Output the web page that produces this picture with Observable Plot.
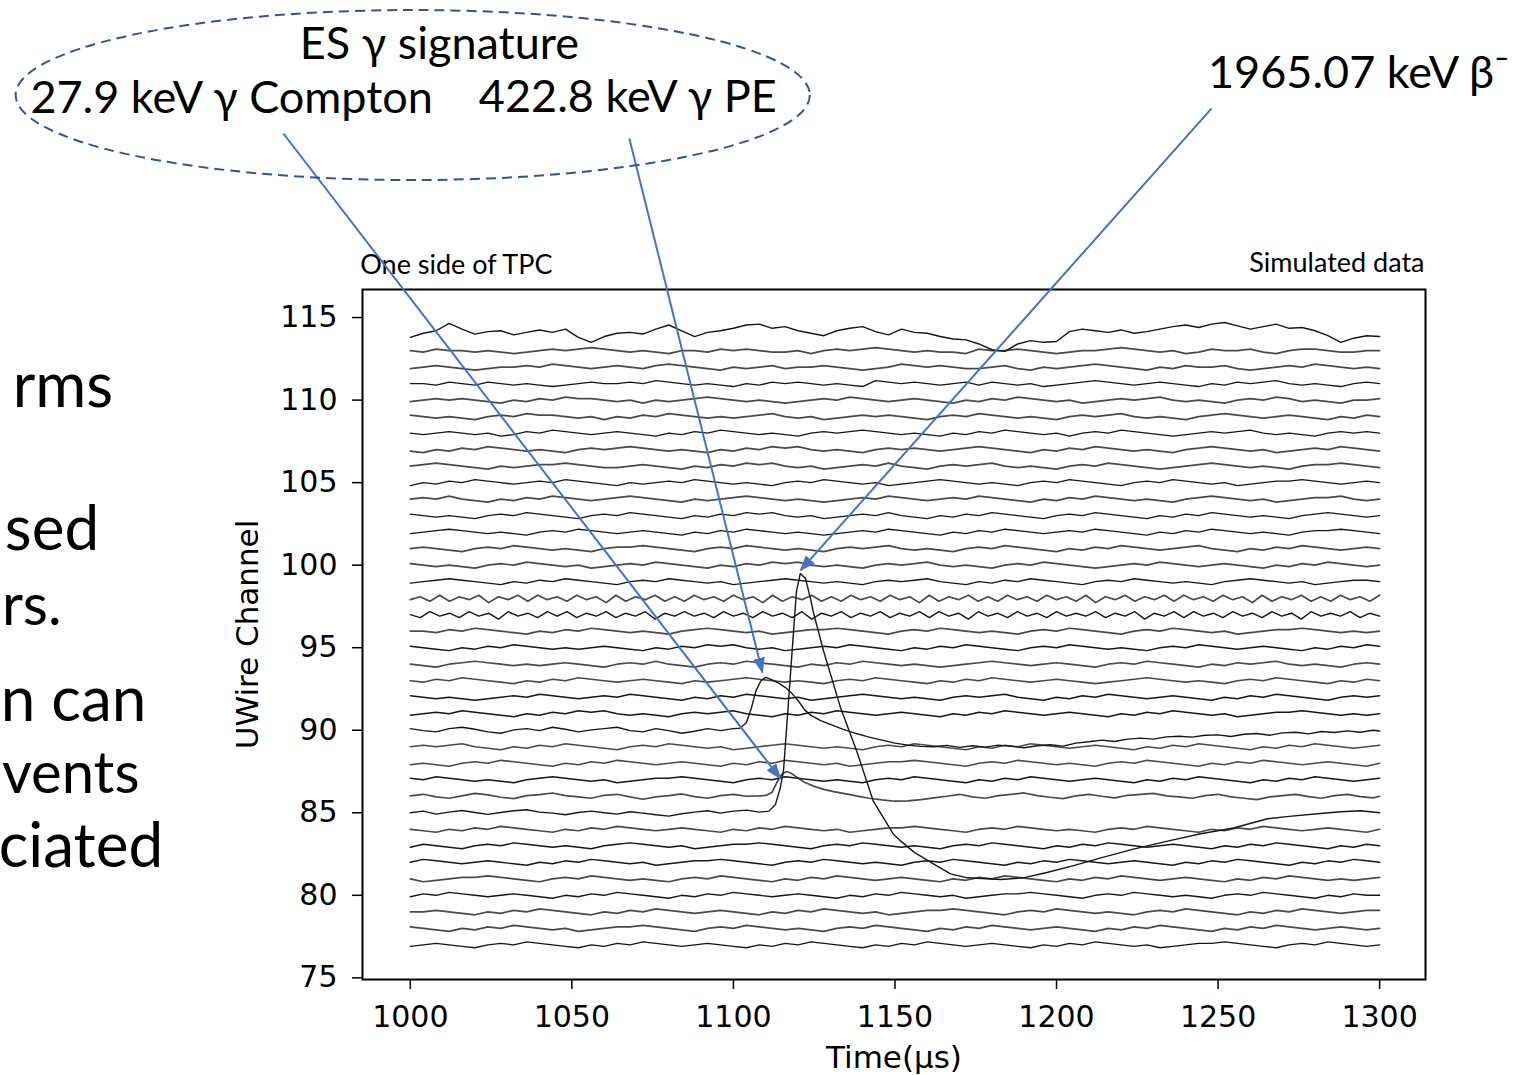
<!DOCTYPE html>
<html><head><meta charset="utf-8">
<script src="https://cdn.jsdelivr.net/npm/d3@7"></script>
<script src="https://cdn.jsdelivr.net/npm/@observablehq/plot@0.6"></script>
<style>html,body{margin:0;padding:0;background:#fff;} #chart{width:1519px;height:1075px;overflow:hidden;}</style>
</head><body><div id="chart"></div>
<script>
// ---------- data ----------
const channels = [114,113,112,111,110,109,108,107,106,105,104,103,102,101,100,99,98,97,96,95,94,93,92,91,90,89,88,87,86,85,84,83,82,81,80,79,78,77];
const tones = "kggkggkggkgkkggkgkgkggkkkggkgkgkkgkggk"; // k = black trace, g = grey trace (same order as channels)
const xTicks = [1000,1050,1100,1150,1200,1250,1300];
const yTicks = [75,80,85,90,95,100,105,110,115];
const noiseUnit = 0.09; // channel units per digit step, digit 5 = baseline

const noise = {
 113:"5465545434565676545435546565445356567654544365565434556765453465564356654455",
 112:"4565434556576545654676543545645565434576565445643545676543546556434565765454",
 111:"5546546545434565565765454354656545437656545646545345676545654354656754543565",
 110:"4565654354657665453545676545434565765456543546576545345656754543565764543556",
 109:"6545435657665453546576545456754534565654356576545435656754543567654565435465",
 108:"5456545346576545654354657654543565676545435465765453565765434565675454356565",
 107:"4354657654543565676545435465767545435656545676543546576545435676545345657654",
 106:"5676543545667654456543546576754534565754356567545435657654345676545435667654",
 105:"3546576545657654354565765454356576545345676545435657654356576545345667654565",
 104:"5657543546576545676543545676545434565765456576543546576545435676545345667545",
 103:"6545435657654356576543546576754534565754354657654356576543546576545435676545",
 102:"4567654543565765456543546576545434565765435465765456576543546576545435667654",
 101:"5654356576545435667654356576545435656754543565765435465765456754354657654565",
 100:"6545435657654534565765435465767545435656754543565765434565765456543546576545",
 99:"4567654354657654356576545345676545435656754354657654356576545435676545345665",
 96:"5546576543546576545435676545345667654356576545435657654356576545345667654545",
 95:"6543546576545456543546576754534565765435465765435657654543565765456543546576",
 94:"5435676545456543565754356576543546576545434567654565435657654354656754543565",
 93:"5465765435465765456543545676545435657654354657654565434567654543565765435465",
 92:"6545434565765456576543546576545345676545435656754354657654565435465765435656",
 91:"4565765435465767545435656754354657654565435465765456543546576545345667654545",
 89:"5656754354657654356576545345676545435657654354657654565435465765435465765456",
 88:"4543565765435465765456543546576545345667654356576545435657654354657654565435",
 87:"6576545435676545345667654356576545435657654354657654565435465765435465765456",
 84:"5435465765435465765456543546576545345667654356576545435657654354657654565435",
 83:"4654356576545435676545345667654356576545435657654354657654565435465765435465",
 82:"5765456543546576545345667654356576545435657654354657654565435465765435465765",
 81:"5345667654356576545435657654354657654565435465765435465765456543546576545456",
 80:"4657654565435465765435465765456543546576545345667654356576545435657654354655",
 79:"5565435465765435465765456543546576545345667654356576545435657654354657654566",
 78:"6543546576545345667654356576545435657654354657654565435465765435465765456545",
 77:"4565435657654354657654565435465765435465765456543546576545345667654356576545"
};
// two channels with a regular ripple (sampled every 3 µs)
const oscillating = {
 98:"4637364726473746374627364736374637462736473637463746273647363746374637264736473746374627364736374637",
 97:"5374637462746374736473647264746374637463726473647364737462746374637464736472647374637463746274647364"
};
// channel 114: larger wander, offsets (channels) every 4 µs from 1000 to 1300
const top114 = [-0.2,0.05,0.2,0.65,0.3,0.0,0.15,0.2,-0.05,0.1,0.25,0.1,0.3,-0.2,-0.5,-0.15,0.05,0.1,0.0,0.3,
 0.55,0.2,-0.15,0.1,0.2,0.35,0.55,0.6,0.35,0.45,0.2,0.05,-0.1,0.2,0.35,0.45,0.15,-0.05,0.3,0.1,
 0.05,-0.15,-0.3,-0.35,-0.6,-0.95,-1.05,-0.6,-0.4,-0.5,-0.45,0.15,0.3,0.2,0.1,0.25,0.05,0.15,0.3,0.45,
 0.55,0.4,0.6,0.7,0.5,0.3,0.45,0.6,0.35,0.4,0.2,-0.1,-0.5,-0.25,-0.1,-0.15];
// channel 85: 1965.07 keV beta- (bipolar induction signal), [time µs, offset]
const beta85 = [[1000,0.0],[1004,0.1],[1008,-0.08],[1012,0.04],[1016,0.14],[1020,0.02],[1024,-0.1],[1028,0.02],[1032,0.12],[1036,0.18],[1040,0.04],[1044,-0.02],[1048,-0.12],[1052,0.02],[1056,0.1],[1060,0.0],[1064,-0.08],[1068,0.06],[1072,-0.02],[1076,-0.12],[1080,-0.2],[1084,-0.06],[1088,0.04],[1092,0.12],[1096,-0.02],[1100,0.1],[1104,0.16],[1108,0.04],[1111,0.1],
 [1113,0.5],[1114.5,1.5],[1115.5,2.55],[1117,6.6],[1118.5,10.7],[1119.5,13.4],[1120.7,14.5],[1122.3,14.2],[1123.8,13.0],[1124.8,12.1],[1127.9,9.8],[1133.1,6.4],[1138.4,3.6],[1143.3,0.7],[1149.5,-1.3],[1151.7,-1.7],[1156,-2.4],[1161.9,-3.1],[1167.2,-3.7],[1172.4,-3.94],[1177,-3.98],[1182.7,-4.04],[1189.8,-3.94],[1197,-3.62],[1205.3,-3.2],[1214,-2.72],[1223.8,-2.2],[1234.4,-1.72],[1244.6,-1.27],[1254.8,-0.92],[1265.3,-0.36],[1272,-0.22],[1280.8,-0.06],[1288,0.06],[1294.1,0.12],[1300,0.0]];
// channel 86: 27.9 keV gamma Compton
const compton86 = [[1000,0.02],[1004,0.12],[1008,-0.04],[1012,-0.12],[1016,0.02],[1020,0.18],[1024,0.08],[1028,-0.06],[1032,-0.14],[1036,0.04],[1040,0.1],[1044,0.2],[1048,0.04],[1052,-0.04],[1056,-0.12],[1060,0.06],[1064,0.12],[1068,-0.04],[1072,-0.18],[1076,-0.04],[1080,0.04],[1084,0.14],[1088,-0.02],[1092,-0.12],[1096,0.04],[1100,0.12],[1104,0.0],[1108,0.02],
 [1110,0.05],[1112,0.25],[1113.5,0.85],[1115,1.35],[1116.5,1.5],[1118,1.38],[1120,1.1],[1122,0.85],[1125,0.6],[1128,0.42],[1131,0.28],[1134,0.18],[1138,0.02],[1142,-0.12],[1146,-0.22],[1150,-0.3],[1154,-0.28],[1158,-0.2],[1162,-0.1],[1166,0.0],
 [1170,0.12],[1174,-0.04],[1178,-0.12],[1182,0.04],[1186,0.12],[1190,0.2],[1194,0.04],[1198,-0.06],[1202,-0.14],[1206,0.02],[1210,0.12],[1214,0.0],[1218,-0.1],[1222,0.06],[1226,0.12],[1230,0.18],[1234,0.02],[1238,-0.04],[1242,-0.12],[1246,0.04],[1250,0.12],[1254,-0.04],[1258,-0.12],[1262,-0.2],[1266,-0.04],[1270,0.04],[1274,0.12],[1278,-0.02],[1282,-0.12],[1286,0.04],[1290,0.12],[1294,-0.02],[1298,-0.1],[1300,0.0]];
// channel 90: 422.8 keV gamma photo-electric
const pe90 = [[1000,0.1],[1004,-0.02],[1008,-0.1],[1012,0.1],[1016,0.18],[1020,0.06],[1024,-0.1],[1028,-0.18],[1032,0.02],[1036,0.1],[1040,-0.02],[1044,0.18],[1048,0.06],[1052,-0.1],[1056,0.02],[1060,0.1],[1064,0.18],[1068,-0.02],[1072,-0.1],[1076,0.1],[1080,-0.02],[1084,-0.18],[1088,-0.06],[1092,0.1],[1096,-0.02],[1100,0.1],[1102,0.12],
 [1104,0.45],[1105.5,1.3],[1107,2.4],[1108.5,3.0],[1110,3.2],[1112,3.05],[1114,2.85],[1116,2.6],[1118,2.25],[1120,1.8],[1122,1.25],[1124,0.9],[1127,0.58],[1130,0.35],[1134,0.05],[1138,-0.2],[1142,-0.42],[1146,-0.6],[1150,-0.78],[1154,-0.9],[1158,-0.98],[1162,-1.0],[1166,-0.92],[1170,-1.04],[1174,-0.94],[1178,-1.02],[1182,-0.9],[1186,-0.98],[1190,-1.06],[1194,-0.94],[1198,-0.88],[1202,-0.96],[1206,-0.78],[1210,-0.7],[1214,-0.6],[1218,-0.68],[1222,-0.54],[1226,-0.48],[1230,-0.54],[1234,-0.4],[1238,-0.36],[1242,-0.42],[1246,-0.3],[1250,-0.28],[1254,-0.38],[1258,-0.24],[1262,-0.2],[1266,-0.3],[1270,-0.16],[1274,-0.12],[1278,-0.22],[1282,-0.08],[1286,-0.14],[1290,-0.04],[1294,-0.12],[1298,0.0],[1300,-0.05]];
const specialTraces = {85: beta85, 86: compton86, 90: pe90};

// annotations (positions in data units: time µs, channel)
const annoTexts = [
 {label:"ES γ signature", t:1009.0, ch:131.55},
 {label:"27.9 keV γ Compton", t:944.7, ch:128.27},
 {label:"422.8 keV γ PE", t:1067.3, ch:128.33},
 {label:"1965.07 keV β⁻", t:1293.5, ch:129.79}
];
const arrows = [
 {t1:960.7, c1:126.15, t2:1114.6, c2:87.06},
 {t1:1067.8, c1:125.85, t2:1109.0, c2:93.48},
 {t1:1248.0, c1:127.67, t2:1120.7, c2:99.67}
];
const signatureEllipse = {t:1000.9, ch:128.45, rt:122.9, rc:5.15};
const cornerTexts = [
 {label:"One side of TPC", t:984.5, ch:118.15, anchor:"start"},
 {label:"Simulated data", t:1313.9, ch:118.27, anchor:"end"}
];
// fragments of slide text at the left edge: right-aligned ones, then left-aligned ones
const slideFragmentsEnd = [
 {label:"rms", t:908.0, ch:110.76},
 {label:"sed", t:903.7, ch:102.15},
 {label:"n can", t:918.3, ch:91.79},
 {label:"ciated", t:923.5, ch:82.94}
];
const slideFragmentsStart = [
 {label:"rs.", t:873.6, ch:97.48},
 {label:"vents", t:873.6, ch:87.30}
];

// ---------- build rows ----------
const rows = [];
channels.forEach((ch, k) => {
  let pts;
  if (ch === 114) pts = top114.map((v, i) => [1000 + i * 300 / (top114.length - 1), v]);
  else if (specialTraces[ch]) pts = specialTraces[ch];
  else {
    const s = oscillating[ch] || noise[ch];
    pts = [...s].map((d, i) => [1000 + i * 300 / (s.length - 1), (+d - 5) * noiseUnit]);
  }
  for (const [t, off] of pts) rows.push({ch, t, v: ch + off, tone: tones[k]});
});

const plot = Plot.plot({
  width: 1519, height: 1075,
  marginLeft: 362, marginRight: 94, marginTop: 289, marginBottom: 96,
  x: {domain: [985.2, 1314.2]},
  y: {domain: [74.9, 116.7]},
  style: {fontFamily: "DejaVu Sans", fontSize: "30px", color: "black", background: "white", overflow: "visible"},
  marks: [
    Plot.line(rows.filter(r => r.tone === "g"), {x: "t", y: "v", z: "ch", stroke: "#4a4a4a", strokeWidth: 1.7}),
    Plot.line(rows.filter(r => r.tone === "k"), {x: "t", y: "v", z: "ch", stroke: "#161616", strokeWidth: 1.4}),
    Plot.frame({stroke: "black", strokeWidth: 2}),
    Plot.axisX({ticks: xTicks, tickFormat: d => String(d), tickSize: 10, tickPadding: 16, label: null, fontSize: 30, strokeWidth: 1.5}),
    Plot.axisY({ticks: yTicks, tickFormat: d => String(d), tickSize: 10, tickPadding: 15, label: null, fontSize: 30, strokeWidth: 1.5}),
    Plot.text(["UWire Channel"], {frameAnchor: "left", dx: -114, rotate: -90, text: d => d, fontSize: 31, textAnchor: "middle", lineAnchor: "middle", fill: "black"}),
    Plot.text(["Time(μs)"], {frameAnchor: "bottom", dy: 79, text: d => d, fontSize: 31, textAnchor: "middle", lineAnchor: "middle", fill: "black"}),
    Plot.text(cornerTexts.filter(d => d.anchor === "start"), {x: "t", y: "ch", text: "label", textAnchor: "start", lineAnchor: "middle", fontFamily: "Lato", fontSize: 27, fill: "black"}),
    Plot.text(cornerTexts.filter(d => d.anchor === "end"), {x: "t", y: "ch", text: "label", textAnchor: "end", lineAnchor: "middle", fontFamily: "Lato", fontSize: 27, fill: "black"}),
    Plot.text(slideFragmentsEnd, {x: "t", y: "ch", text: "label", textAnchor: "end", lineAnchor: "middle", fontFamily: "Lato", fontSize: 62, fill: "black"}),
    Plot.text(slideFragmentsStart, {x: "t", y: "ch", text: "label", textAnchor: "start", lineAnchor: "middle", fontFamily: "Lato", fontSize: 58, fill: "black"}),
    Plot.text(annoTexts, {x: "t", y: "ch", text: "label", textAnchor: "middle", lineAnchor: "middle", fontFamily: "Lato", fontSize: 45, fill: "black"}),
    Plot.link(arrows, {x1: "t1", y1: "c1", x2: "t2", y2: "c2", stroke: "#4472C4", strokeWidth: 2})
  ]
});

document.getElementById("chart").appendChild(plot);

// dashed ellipse around the ES gamma annotations, placed through the scales
const sx = plot.scale("x"), sy = plot.scale("y");
const e = signatureEllipse;
const cx = sx.apply(e.t), cy = sy.apply(e.ch);
const rx = sx.apply(e.t + e.rt) - cx, ry = cy - sy.apply(e.ch + e.rc);
const svg = d3.select(plot);
svg.append("ellipse").attr("cx", cx).attr("cy", cy).attr("rx", rx).attr("ry", ry)
  .attr("fill", "none").attr("stroke", "#2F5597").attr("stroke-width", 2).attr("stroke-dasharray", "10,6");

// filled arrowheads
const defs = svg.insert("defs", ":first-child");
defs.append("marker").attr("id", "ahead").attr("viewBox", "0 0 16 12").attr("refX", 15).attr("refY", 6)
  .attr("markerWidth", 16).attr("markerHeight", 12).attr("markerUnits", "userSpaceOnUse").attr("orient", "auto")
  .append("path").attr("d", "M0,0L16,6L0,12Z").attr("fill", "#4472C4");
svg.selectAll('g[aria-label="link"] path, g[aria-label="link"] line').attr("marker-end", "url(#ahead)");
</script>
</body></html>
